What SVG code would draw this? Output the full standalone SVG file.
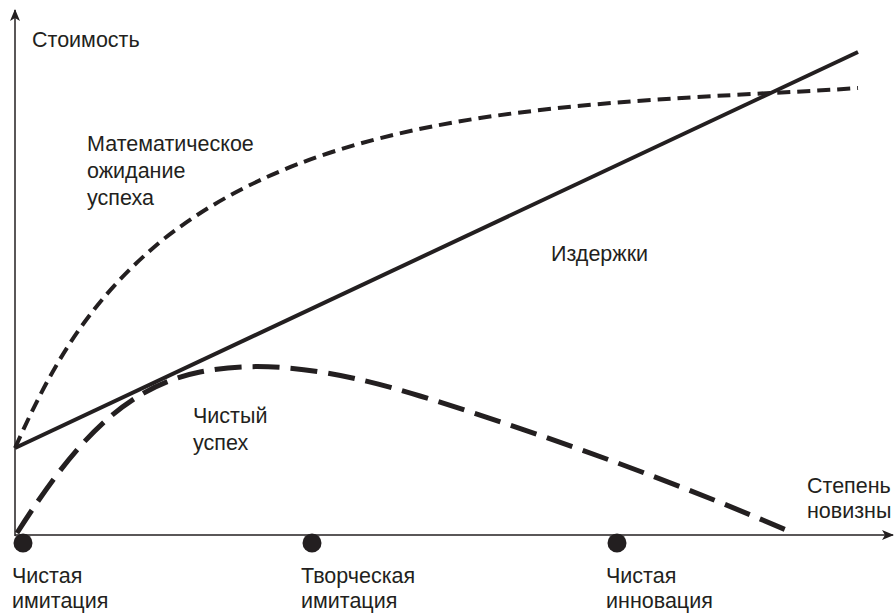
<svg xmlns="http://www.w3.org/2000/svg" width="895" height="614" viewBox="0 0 895 614">
<style>
text{font-family:"Liberation Sans",Arial,sans-serif;font-size:21.5px;fill:#231f20}
.ax{stroke:#231f20;stroke-width:1.5;fill:none}
.cost{stroke:#231f20;stroke-width:4;fill:none}
.exp{stroke:#231f20;stroke-width:4;fill:none;stroke-dasharray:13 7}
.net{stroke:#231f20;stroke-width:5;fill:none;stroke-dasharray:27 11}
.dot{fill:#231f20}
</style>
<defs>
<marker id="arr" viewBox="0 0 12 10" refX="11" refY="5" markerWidth="12" markerHeight="10" markerUnits="userSpaceOnUse" orient="auto">
<path d="M0,0 L12,5 L0,10 L3,5 Z" fill="#231f20"/>
</marker>
</defs>
<g id="connectors">
<line class="ax" x1="15" y1="536" x2="15" y2="10" marker-end="url(#arr)"/>
<line class="ax" x1="15" y1="535" x2="893" y2="535" marker-end="url(#arr)"/>
<line class="cost" x1="15" y1="448" x2="858" y2="52"/>
<path class="exp" d="M15,448 C50,370 85,305 160,242 C240,178 340,140 480,118 C620,97 760,95 858,88"/>
<path class="net" d="M17,533 C70,450 120,388 200,372 C260,360 330,368 420,396 C550,436 690,488 793,533"/>
</g>
<g id="node-pure-imitation"><circle class="dot" cx="23" cy="543" r="9.5"/><text x="12" y="583">Чистая</text><text x="12" y="608">имитация</text></g>
<g id="node-creative-imitation"><circle class="dot" cx="312" cy="543" r="9.5"/><text x="301" y="583">Творческая</text><text x="301" y="608">имитация</text></g>
<g id="node-pure-innovation"><circle class="dot" cx="617" cy="543" r="9.5"/><text x="606" y="583">Чистая</text><text x="606" y="608">инновация</text></g>
<g id="label-cost-axis"><text x="32" y="47">Стоимость</text></g>
<g id="label-expected"><text x="87" y="151">Математическое</text><text x="87" y="178">ожидание</text><text x="87" y="205">успеха</text></g>
<g id="label-costs"><text x="551" y="261">Издержки</text></g>
<g id="label-net"><text x="193" y="423">Чистый</text><text x="193" y="450">успех</text></g>
<g id="label-novelty"><text x="807" y="493">Степень</text><text x="807" y="518">новизны</text></g>
</svg>
